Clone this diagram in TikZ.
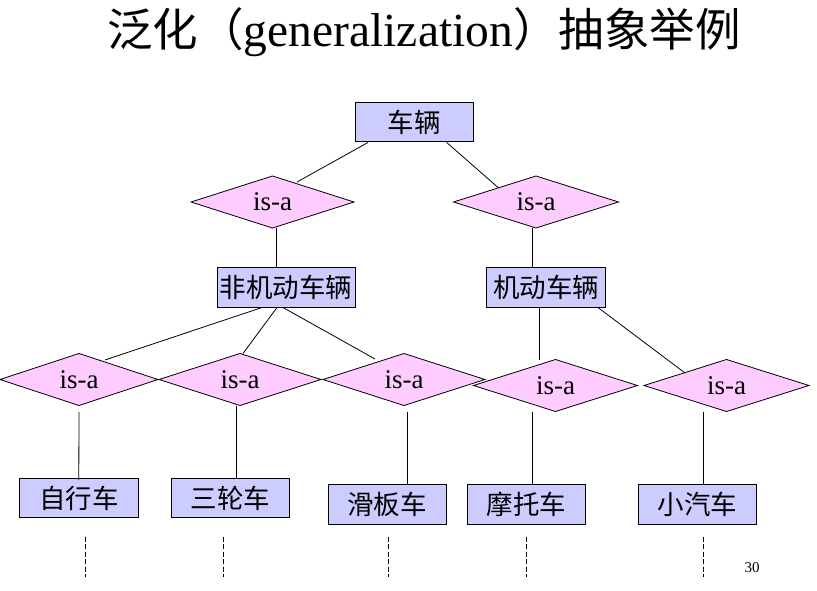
\documentclass[tikz,border=0pt]{standalone}
\usepackage{fontspec}
\setmainfont{Liberation Serif}
\newfontfamily\cjk{Noto Sans CJK SC}
\usetikzlibrary{shapes.geometric,calc}
\definecolor{boxfill}{RGB}{204,204,255}
\definecolor{diafill}{RGB}{255,204,255}
\begin{document}
\begin{tikzpicture}[x=1pt,y=-1pt,
  ent/.style={draw=black, line width=1pt, fill=boxfill, rectangle, inner sep=0pt,
    minimum height=39pt, font=\cjk\fontsize{26.5}{30}\selectfont},
  isa/.style={fill=diafill, diamond, inner sep=0pt, outer sep=0pt, shape aspect=3.1,
    minimum height=52pt, font=\fontsize{27}{30}\selectfont},
  isaline/.style={draw=black, line width=0.8pt, line join=miter},
  link/.style={line width=0.8pt},
  more/.style={dash pattern=on 5pt off 2.5pt, line width=0.8pt}]
\fill[white] (0,0) rectangle (817,591);
\useasboundingbox (0,0) rectangle (817,591);

% title
\node[anchor=base, inner sep=0pt] (title) at (424,47)
  {{\cjk\fontsize{45.5}{50}\selectfont 泛化（}{\fontsize{47.5}{50}\selectfont generalization}{\cjk\fontsize{45.5}{50}\selectfont ）抽象举例}};

% entities
\node[ent, minimum width=118pt] (v) at (414,122.5) {车辆};
\node[ent, minimum width=138pt, minimum height=40pt] (nm) at (286,287) {非机动车辆};
\node[ent, minimum width=119pt, minimum height=40pt] (mv) at (546,287) {机动车辆};

% relationships
\node[isa, minimum width=163pt] (d1) at (272.5,202) {is-a};
\node[isa, minimum width=165pt] (d2) at (536,202) {is-a};
\node[isa, minimum width=158pt] (d3) at (79,379.5) {is-a};
\node[isa, minimum width=162pt] (d4) at (240,379.5) {is-a};
\node[isa, minimum width=162pt] (d5) at (404,379.5) {is-a};
\node[isa, minimum width=164pt] (d6) at (555.5,385.5) {is-a};
\node[isa, minimum width=165pt] (d7) at (726.5,385.5) {is-a};
\foreach \d in {d1,d2,d3,d4,d5,d6,d7}
  \draw[isaline] (\d.north) -- (\d.east) -- (\d.south) -- (\d.west) -- cycle;

% leaf entities
\node[ent, minimum width=119pt] (b1) at (78.8,498) {自行车};
\node[ent, minimum width=118pt] (b2) at (230.3,498) {三轮车};
\node[ent, minimum width=118pt, minimum height=40pt] (b3) at (387,504) {滑板车};
\node[ent, minimum width=118pt, minimum height=40pt] (b4) at (526.3,504) {摩托车};
\node[ent, minimum width=118pt, minimum height=40pt] (b5) at (697.5,504) {小汽车};

% connectors
\draw[link] ([xshift=-46pt]v.south) -- ($(d1.center)+(24.5,-20)$);
\draw[link] ([xshift=32.7pt]v.south) -- ($(d2.center)+(-37.7,-14.3)$);
\draw[link] ([xshift=4.2pt]d1.south) -- ([xshift=-9.3pt]nm.north);
\draw[link] ([xshift=-3.7pt]d2.south) -- ([xshift=-13.7pt]mv.north);
\draw[link] ([xshift=-24pt]nm.south) -- ($(d3.center)+(26,-19.5)$);
\draw[link] ([xshift=-9pt]nm.south) -- ([xshift=3pt]d4.north);
\draw[link] ([xshift=-3pt]nm.south) -- ($(d5.center)+(-29,-20.5)$);
\draw[link] ([xshift=-6.7pt]mv.south) -- ([xshift=-16.2pt]d6.north);
\draw[link] ([xshift=52pt]mv.south) -- ($(d7.center)+(-41.5,-12.5)$);
\draw[link] ([yshift=-6.5pt]d3.south) -- ([yshift=-2pt]b1.north);
\draw[link] ([xshift=-3.3pt]d4.south) -- ([xshift=6.4pt,yshift=-0.5pt]b2.north);
\draw[link] ($(d5.south)+(3.3,6.5)$) -- ([xshift=20.3pt]b3.north);
\draw[link] ($(d6.south)+(-23.2,0.5)$) -- ([xshift=6pt]b4.north);
\draw[link] ($(d7.south)+(-23.2,0.5)$) -- ([xshift=5.8pt]b5.north);

% continuation marks
\coordinate (e1) at (85.3,536.7);  \coordinate (f1) at (85.3,576.7);
\coordinate (e2) at (223.3,536.7); \coordinate (f2) at (223.3,576.7);
\coordinate (e3) at (388.3,536.7); \coordinate (f3) at (388.3,576.7);
\coordinate (e4) at (526.7,536.7); \coordinate (f4) at (526.7,576.7);
\coordinate (e5) at (703.7,536.7); \coordinate (f5) at (703.7,576.7);
\foreach \i in {1,...,5} \draw[more] (e\i) -- (f\i);

% page number
\node[anchor=base, inner sep=0pt, font=\fontsize{15}{18}\selectfont] (pg) at (752,572) {30};
\end{tikzpicture}
\end{document}
